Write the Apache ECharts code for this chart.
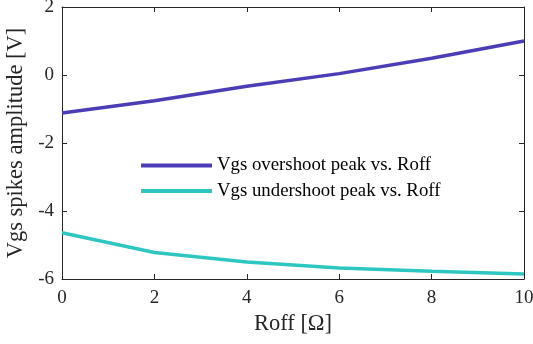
<!DOCTYPE html>
<html>
<head>
<meta charset="utf-8">
<script src="https://cdn.jsdelivr.net/npm/echarts@6/dist/echarts.min.js"></script>
<style>
  html, body { margin: 0; padding: 0; background: #fff; }
  #chart { width: 533px; height: 344px; }
</style>
</head>
<body>
<div id="chart"></div>
<script>
  // 数据
  const roff = [0, 2, 4, 6, 8, 10];
  const overshoot = [-1.12, -0.76, -0.33, 0.04, 0.49, 1.0];
  const undershoot = [-4.64, -5.22, -5.5, -5.68, -5.77, -5.85];
  const seriesNames = ['Vgs overshoot peak vs. Roff', 'Vgs undershoot peak vs. Roff'];
  const colors = ['#4a3db5', '#2ec6c0'];

  const font = 'Liberation Serif';
  const ink = '#262626';

  const chart = echarts.init(document.getElementById('chart'));

  const toPairs = (xs, ys) => xs.map((x, i) => [x, ys[i]]);

  // 坐标轴公共样式（刻度朝内，框线）
  const line = { onZero: false, show: true, lineStyle: { color: ink, width: 1 } };
  const tick = { show: true, inside: true, length: 5, lineStyle: { color: ink } };

  const option = {
    animation: false,
    grid: { left: 62, right: 9, top: 7, bottom: 65, containLabel: false, outerBoundsMode: 'none' },
    legend: {
      left: 136,
      top: 151,
      orient: 'vertical',
      itemWidth: 71,
      itemHeight: 4,
      itemGap: 6.5,
      icon: 'rect',
      data: seriesNames,
      textStyle: { fontFamily: font, fontSize: 18.8, color: '#000' }
    },
    xAxis: [
      {
        type: 'value',
        min: 0, max: 10, interval: 2,
        name: 'Roff [Ω]',
        nameLocation: 'middle',
        nameGap: 34,
        nameTextStyle: { fontFamily: font, fontSize: 22.5, color: ink },
        axisLine: line,
        axisTick: tick,
        axisLabel: { fontFamily: font, fontSize: 19, color: ink, margin: 10 },
        splitLine: { show: false }
      },
      {
        type: 'value', position: 'top',
        min: 0, max: 10, interval: 2,
        axisLine: line,
        axisTick: tick,
        axisLabel: { show: false },
        splitLine: { show: false }
      }
    ],
    yAxis: [
      {
        type: 'value',
        min: -6, max: 2, interval: 2,
        name: 'Vgs spikes amplitude [V]',
        nameLocation: 'middle',
        nameGap: 31,
        nameTextStyle: { fontFamily: font, fontSize: 22.5, color: ink },
        axisLine: line,
        axisTick: tick,
        axisLabel: { fontFamily: font, fontSize: 19, color: ink, margin: 8 },
        splitLine: { show: false }
      },
      {
        type: 'value', position: 'right',
        min: -6, max: 2, interval: 2,
        axisLine: line,
        axisTick: tick,
        axisLabel: { show: false },
        splitLine: { show: false }
      }
    ],
    series: [
      {
        name: seriesNames[0],
        type: 'line',
        data: toPairs(roff, overshoot),
        showSymbol: false,
        symbol: 'none',
        color: colors[0],
        lineStyle: { width: 3.5, color: colors[0] }
      },
      {
        name: seriesNames[1],
        type: 'line',
        data: toPairs(roff, undershoot),
        showSymbol: false,
        symbol: 'none',
        color: colors[1],
        lineStyle: { width: 3.5, color: colors[1] }
      }
    ]
  };

  chart.setOption(option);
</script>
</body>
</html>
